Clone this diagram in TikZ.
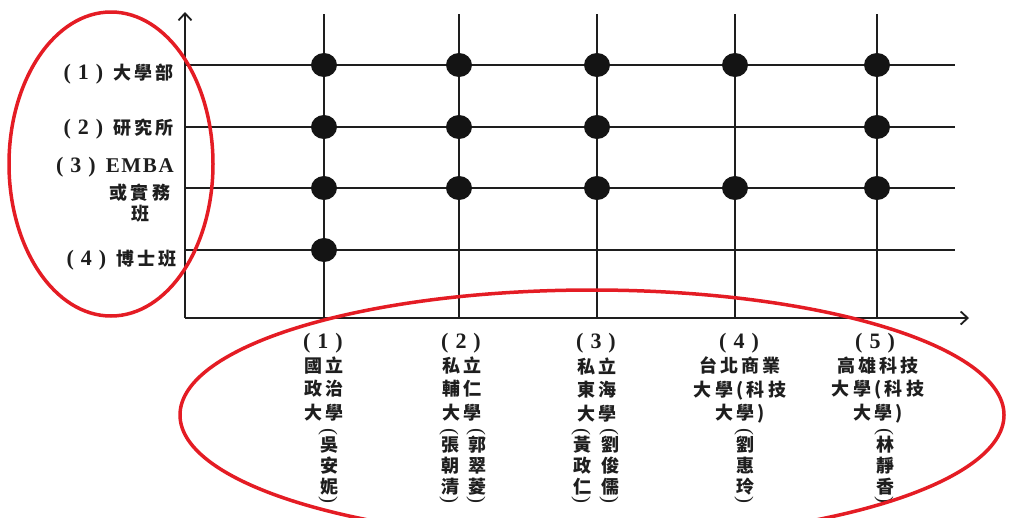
\documentclass[tikz,border=0pt]{standalone}
\usepackage{fontspec}
\setmainfont{Liberation Serif}
\newfontfamily\cjk{Noto Sans CJK TC}[LetterSpace=18]
\newfontfamily\latb{Liberation Serif}[LetterSpace=8]
\usetikzlibrary{arrows.meta,shapes.geometric}
\definecolor{ringred}{RGB}{228,28,36}
\definecolor{ink}{RGB}{30,30,30}
\newcommand{\lbn}[1]{{\rmfamily\fontsize{22}{23}\selectfont(\hspace{7pt}\textbf{#1}\hspace{7pt})}}
\begin{document}
\begin{tikzpicture}[x=1pt,y=-1pt,
  gridline/.style={draw=ink, line width=1.8pt},
  axisline/.style={draw=ink, line width=1.8pt, -{Straight Barb[length=7pt,width=13pt,line width=1.8pt]}},
  dot/.style={ellipse, fill=black!92, minimum width=26pt, minimum height=24pt, inner sep=0pt},
  lab/.style={font=\fontsize{18}{23.5}\selectfont\cjk\bfseries, text=ink, inner sep=0pt, align=center},
  namecol/.style={lab, font=\fontsize{18}{21}\selectfont\cjk\bfseries},
  vparen/.style={font=\fontsize{21}{21}\selectfont\rmfamily, text=ink, inner sep=0pt, rotate=-90},
  redring/.style={draw=ringred, line width=3.5pt}]
\useasboundingbox (0,0) rectangle (1009,517);
% axes
\coordinate (origin) at (185,318);
\coordinate (ytop) at (185,12);
\coordinate (xend) at (969,318);
% grid lines
\foreach \n/\y in {1/65,2/127,3/188,4/250}{
  \coordinate (rl\n) at (185,\y);
  \coordinate (rr\n) at (955,\y);
  \draw[gridline] (rl\n) -- (rr\n);
}
\foreach \n/\x in {1/324,2/459,3/597,4/735,5/877}{
  \coordinate (ct\n) at (\x,14);
  \coordinate (cb\n) at (\x,318);
  \draw[gridline] (cb\n) -- (ct\n);
}
\draw[axisline] (origin) -- (ytop);
\draw[axisline] (origin) -- (xend);
% dots
\foreach \c/\r in {1/1,1/2,1/3,1/4,2/1,2/2,2/3,3/1,3/2,3/3,4/1,4/3,5/1,5/2,5/3}{
  \node[dot] (d\c\r) at (ct\c |- rl\r) {};
}
% left labels
\node[lab, anchor=east] (l1) at (174,74) {\lbn{1}\hspace{10pt}大學部};
\node[lab, anchor=east] (l2) at (174,129) {\lbn{2}\hspace{10pt}研究所};
\node[lab, anchor=east] (l3) at (174,167) {\lbn{3}\hspace{10pt}{\latb\bfseries\fontsize{21}{24}\selectfont EMBA}};
\node[lab] (l3b) at (140,193) {或實務};
\node[lab] (l3c) at (140,214) {班};
\node[lab, anchor=east] (l4) at (177,260) {\lbn{4}\hspace{10pt}博士班};
% bottom labels
\node[lab] (c1h) at (323,343) {\lbn{1}};
\node[lab] (c1t) at (324,389) {國立\\政治\\大學};
\node[lab] (c2h) at (461,343) {\lbn{2}};
\node[lab] (c2t) at (462,389) {私立\\輔仁\\大學};
\node[lab] (c3h) at (596,343) {\lbn{3}};
\node[lab] (c3t) at (597,390) {私立\\東海\\大學};
\node[lab] (c4h) at (739,343) {\lbn{4}};
\node[lab] (c4t) at (740,390) {台北商業\\大學(科技\\大學)};
\node[lab] (c5h) at (875,343) {\lbn{5}};
\node[lab] (c5t) at (878,390) {高雄科技\\大學(科技\\大學)};
% vertical names with parentheses
\foreach \id/\x/\txt in {c1n/329/吳\\安\\妮, c2n/450/張\\朝\\清, c2m/477/郭\\翠\\菱,
    c3n/582/黃\\政\\仁, c3m/610/劉\\俊\\儒, c4n/745/劉\\惠\\玲, c5n/885/林\\靜\\香}{
  \node[namecol] (\id) at (\x,466) {\txt};
  \node[vparen] (\id o) at (\x-1,432) {(};
  \node[vparen] (\id c) at (\x-1,500) {)};
}
% red rings
\draw[redring] (111,164) ellipse [x radius=102, y radius=152];
\draw[redring] (592,415) ellipse [x radius=412, y radius=125];
\end{tikzpicture}
\end{document}
